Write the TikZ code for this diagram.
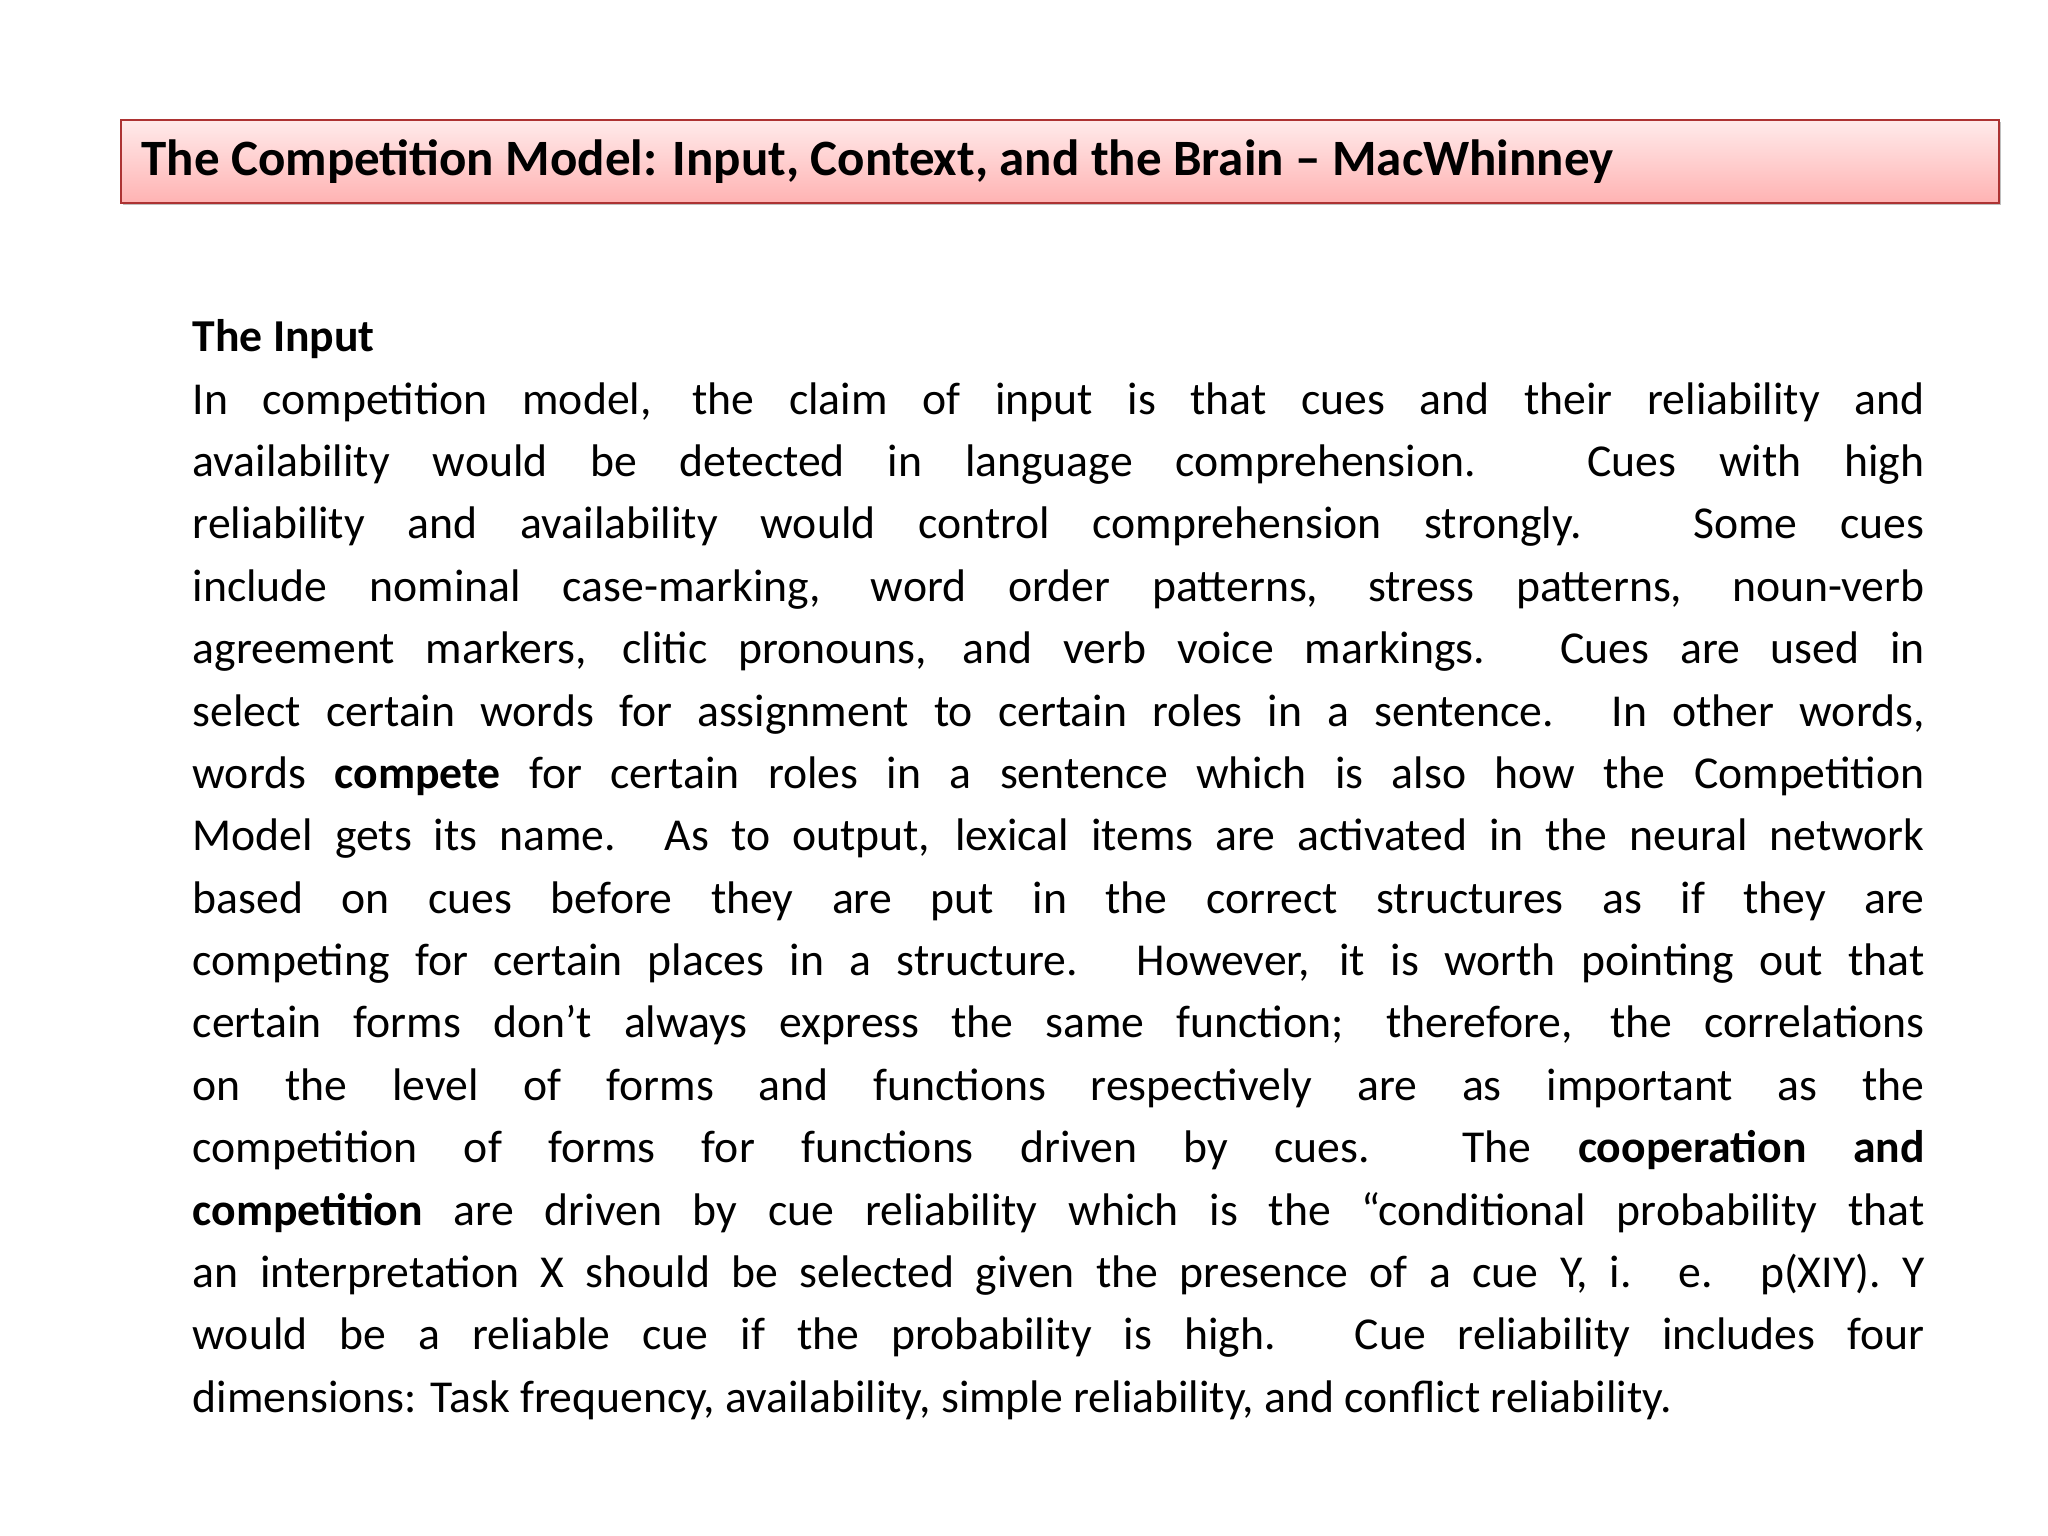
\documentclass[tikz,border=0pt]{standalone}
\usepackage{fontspec}
\setmainfont{Carlito}
\begin{document}
\begin{tikzpicture}
\useasboundingbox[fill=white] (0,0) rectangle (20.48,-15.36);
\tikzset{titlebox/.style={draw=red!60!black!80, line width=0.6pt, top color=red!8, bottom color=red!30},
 shadowbox/.style={fill=black!25}}
\fill[shadowbox] (1.23,-1.22) rectangle (20.01,-2.05);
\node[titlebox, minimum width=18.78cm, minimum height=0.83cm, anchor=north west, inner sep=0] (title) at (1.20,-1.19) {};
\node[anchor=base west, inner sep=0, font=\fontsize{14.5pt}{17pt}\selectfont\bfseries] (tt) at (1.41,-1.76) {The Competition Model: Input, Context, and the Brain – MacWhinney};
\node[anchor=north west, inner sep=0, text width=17.32cm, align=justify, font=\fontsize{13pt}{17.75pt}\selectfont] (body) at (1.92,-3.19) {%
\textbf{The Input}\\
In competition model, the claim of input is that cues and their reliability and\linebreak
availability would be detected in language comprehension. Cues with high\linebreak
reliability and availability would control comprehension strongly. Some cues\linebreak
include nominal case-marking, word order patterns, stress patterns, noun-verb\linebreak
agreement markers, clitic pronouns, and verb voice markings. Cues are used in\linebreak
select certain words for assignment to certain roles in a sentence. In other words,\linebreak
words \textbf{compete} for certain roles in a sentence which is also how the Competition\linebreak
Model gets its name. As to output, lexical items are activated in the neural network\linebreak
based on cues before they are put in the correct structures as if they are\linebreak
competing for certain places in a structure. However, it is worth pointing out that\linebreak
certain forms don’t always express the same function; therefore, the correlations\linebreak
on the level of forms and functions respectively are as important as the\linebreak
competition of forms for functions driven by cues.\ \ The \textbf{cooperation and}\linebreak
\textbf{competition} are driven by cue reliability which is the “conditional probability that\linebreak
an interpretation X should be selected given the presence of a cue Y, i. e. p(XIY). Y\linebreak
would be a reliable cue if the probability is high. Cue reliability includes four\linebreak
dimensions: Task frequency, availability, simple reliability, and conflict reliability.};
\end{tikzpicture}
\end{document}
